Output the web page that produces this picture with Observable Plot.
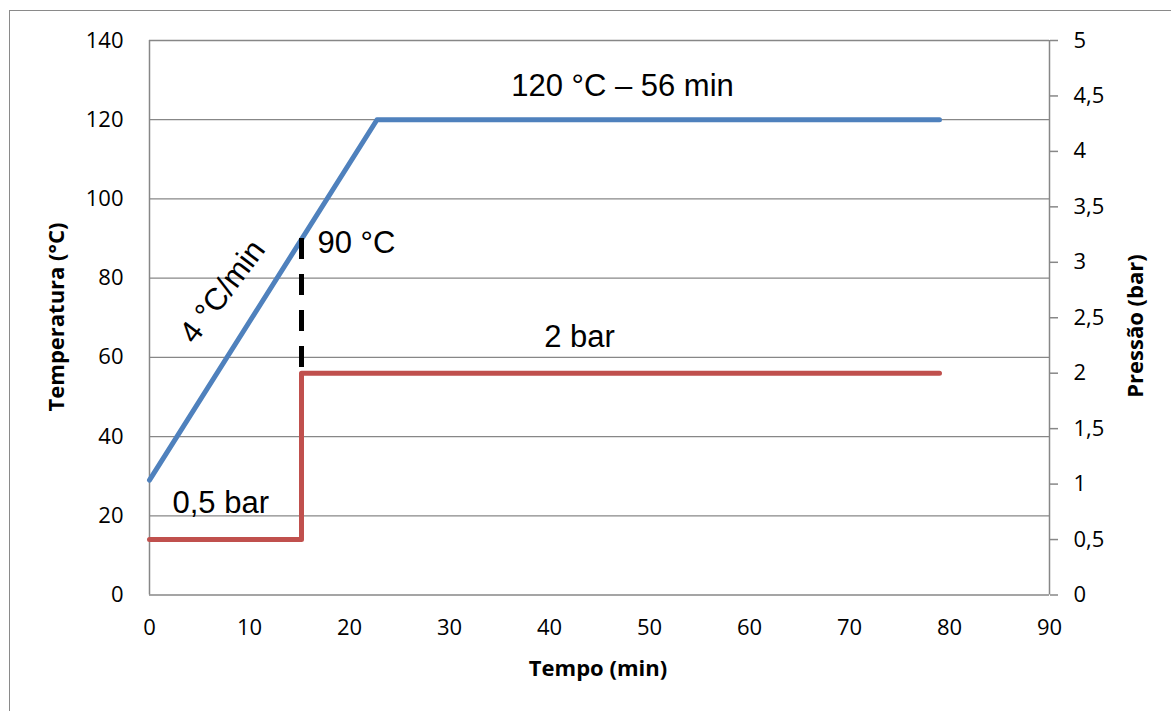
<!DOCTYPE html>
<html>
<head>
<meta charset="utf-8">
<script src="https://cdn.jsdelivr.net/npm/d3@7"></script>
<script src="https://cdn.jsdelivr.net/npm/@observablehq/plot@0.6"></script>
<style>
  html, body { margin: 0; padding: 0; background: #fff; overflow: hidden; }
  #wrap { position: relative; width: 1171px; height: 711px; }
  #frame { position: absolute; left: 9px; top: 10px; width: 1300px; height: 900px;
           border: 1.5px solid #8a8a8a; box-sizing: border-box; }
  #chart { position: absolute; left: 0; top: 0; }
</style>
</head>
<body>
<div id="wrap"><div id="frame"></div><div id="chart"></div></div>
<script>
// Temperature series (°C) vs time (min)
const tempTime = [0, 22.75, 79];
const tempValue = [29, 120, 120];
// Pressure series (bar) vs time (min)
const presTime = [0, 15.2, 15.2, 79];
const presValue = [0.5, 0.5, 2, 2];
// Axes
const xTicks = [0, 10, 20, 30, 40, 50, 60, 70, 80, 90];
const yTicks = [0, 20, 40, 60, 80, 100, 120, 140];
const pTicks = [0, 0.5, 1, 1.5, 2, 2.5, 3, 3.5, 4, 4.5, 5];
const pMax = 5, tMax = 140;
// Dashed marker at 90 °C
const markerTime = 15.2, markerTop = 90, markerBottom = 56;
// Annotations
const annTexts = ["120 °C – 56 min", "90 °C", "2 bar", "0,5 bar", "4 °C/min"];
const annX = [47.3, 16.8, 43.0, 2.3, 7.3];
const annY = [126.0, 86.4, 62.7, 20.6, 76.6];
const annAnchor = ["middle", "start", "middle", "start", "middle"];
const annRotate = [0, 0, 0, 0, -53];

const p2t = p => p * tMax / pMax;
const tempData = tempTime.map((t, i) => ({t, v: tempValue[i]}));
const presData = presTime.map((t, i) => ({t, p: presValue[i]}));
const ann = annTexts.map((s, i) => ({s, x: annX[i], y: annY[i], a: annAnchor[i], r: annRotate[i]}));
const fmt = v => String(v).replace(".", ",");

const gridColor = "#878787";
const tickFont = "'Open Sans', sans-serif";
const annFont = "'Liberation Sans', Arial, sans-serif";

const plot = Plot.plot({
  width: 1171, height: 711,
  marginLeft: 149, marginRight: 122, marginTop: 40, marginBottom: 116.5,
  style: {fontFamily: tickFont, fontSize: "22px", color: "#000", background: "transparent"},
  x: {domain: [0, 90]},
  y: {domain: [0, tMax]},
  marks: [
    Plot.gridY(yTicks, {stroke: gridColor, strokeOpacity: 1, strokeWidth: 1.3}),
    Plot.ruleX([0], {stroke: gridColor, strokeWidth: 1.5}),
    Plot.ruleX([90], {stroke: gridColor, strokeWidth: 1.5}),
    Plot.axisY(yTicks, {anchor: "left", tickSize: 0, tickPadding: 26, label: null, fontSize: 22}),
    Plot.axisY(pTicks.map(p2t), {anchor: "right", tickSize: 8, tickPadding: 16, stroke: gridColor, strokeWidth: 1.5,
      tickFormat: d => fmt(+(d * pMax / tMax).toFixed(2)), label: null, fontSize: 22}),
    Plot.axisX(xTicks, {anchor: "bottom", tickSize: 0, tickPadding: 24, label: null, fontSize: 22}),
    Plot.line(presData, {x: "t", y: d => p2t(d.p), stroke: "#C0504D", strokeWidth: 5, strokeLinejoin: "round", strokeLinecap: "round"}),
    Plot.line(tempData, {x: "t", y: "v", stroke: "#4F81BD", strokeWidth: 5, strokeLinejoin: "round", strokeLinecap: "round"}),
    Plot.ruleX([{x: markerTime, y1: markerTop, y2: markerBottom}], {x: "x", y1: "y1", y2: "y2", stroke: "#000", strokeWidth: 5, strokeDasharray: "21,15"}),
    Plot.text(ann.filter(d => d.r === 0 && d.a === "middle"), {x: "x", y: "y", text: "s", textAnchor: "middle", lineAnchor: "bottom",
      fontFamily: annFont, fontSize: 31, fill: "#000"}),
    Plot.text(ann.filter(d => d.r === 0 && d.a === "start"), {x: "x", y: "y", text: "s", textAnchor: "start", lineAnchor: "bottom",
      fontFamily: annFont, fontSize: 31, fill: "#000"}),
    Plot.text(ann.filter(d => d.r !== 0), {x: "x", y: "y", text: "s", rotate: -53, textAnchor: "middle", lineAnchor: "middle",
      fontFamily: annFont, fontSize: 31, fill: "#000"}),
  ]
});

// Axis titles
const svg = d3.select(plot);
const titleStyle = t => t.attr("font-family", tickFont).attr("font-weight", "bold").attr("font-size", 22).attr("fill", "#000").attr("text-anchor", "middle");
svg.append("text").text("Tempo (min)").attr("x", 598).attr("y", 676).call(titleStyle);
svg.append("text").text("Temperatura (°C)").attr("transform", "translate(64,317) rotate(-90)").call(titleStyle);
svg.append("text").text("Pressão (bar)").attr("transform", "translate(1143,326) rotate(-90)").call(titleStyle);

document.getElementById("chart").appendChild(plot);
</script>
</body>
</html>
